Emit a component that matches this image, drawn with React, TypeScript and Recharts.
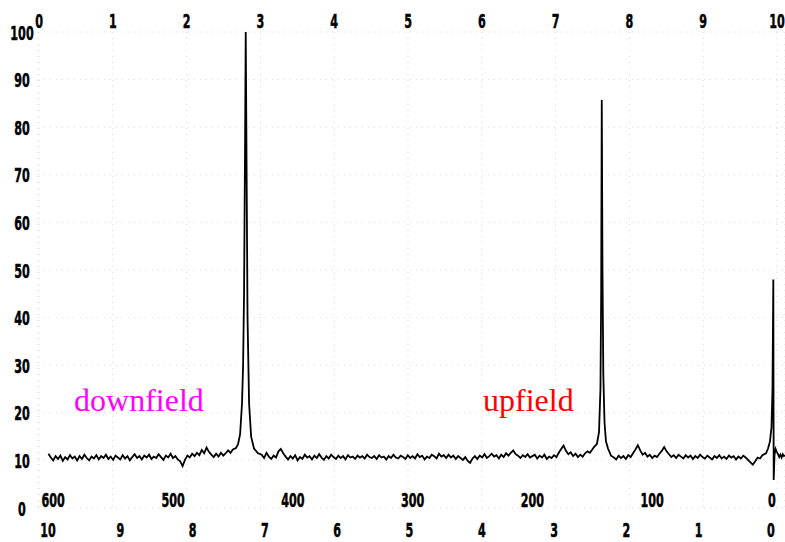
import React from "react";
import {
  LineChart,
  Line,
  XAxis,
  YAxis,
  CartesianGrid,
  ReferenceDot,
} from "recharts";

// Chemical shift of each sample (Hz from TMS, 60 MHz)
const shiftHz: number[] = [
  // downfield baseline
  604, 602, 600, 598, 596, 594, 592, 590, 588, 586, 584, 582, 580,
  578, 576, 574, 572, 570, 568, 566, 564, 562, 560, 558, 556, 554,
  552, 550, 548, 546, 544, 542, 540, 538, 536, 534, 532, 530, 528,
  526, 524, 522, 520, 518, 516, 514, 512, 510, 508, 506, 504, 502,
  500, 498, 496, 494, 492, 490, 488, 486, 484, 482, 480, 478, 476,
  474, 472, 470, 468, 466, 464, 462, 460, 458, 456, 454, 452, 450,
  // aromatic singlet
  447.4, 445.7, 444.0, 442.4, 441.5, 440.7, 439.9, 439.3, 438.6, 437.8, 436.5, 434.8, 432.4, 429.0,
  // middle baseline
  426, 424, 422, 420, 418, 416, 414, 412, 410, 408, 406, 404, 402,
  400, 398, 396, 394, 392, 390, 388, 386, 384, 382, 380, 378, 376,
  374, 372, 370, 368, 366, 364, 362, 360, 358, 356, 354, 352, 350,
  348, 346, 344, 342, 340, 338, 336, 334, 332, 330, 328, 326, 324,
  322, 320, 318, 316, 314, 312, 310, 308, 306, 304, 302, 300, 298,
  296, 294, 292, 290, 288, 286, 284, 282, 280, 278, 276, 274, 272,
  270, 268, 266, 264, 262, 260, 258, 256, 254, 252, 250, 248, 246,
  244, 242, 240, 238, 236, 234, 232, 230, 228, 226, 224, 222, 220,
  218, 216, 214, 212, 210, 208, 206, 204, 202, 200, 198, 196, 194,
  192, 190, 188, 186, 184, 182, 180, 178, 176, 174, 172, 170, 168,
  166, 164, 162, 160, 158, 156, 154, 152, 150,
  // methyl singlet
  148.6, 146.1, 144.4, 143.2, 142.6, 142.1, 141.5, 140.8, 139.8, 138.6, 136.9, 134.4,
  // upfield baseline
  132, 130, 128, 126, 124, 122, 120, 118, 116, 114, 112, 110, 108,
  106, 104, 102, 100, 98, 96, 94, 92, 90, 88, 86, 84, 82,
  80, 78, 76, 74, 72, 70, 68, 66, 64, 62, 60, 58, 56,
  54, 52, 50, 48, 46, 44, 42, 40, 38, 36, 34, 32, 30,
  28, 26, 24, 22, 20, 18, 16, 14, 12, 10, 8,
  // TMS reference
  5.0, 3.3, 1.7, 0.4, -0.4, -1.1, -1.4,
  -2.1, -3.0, -4.0, -5.0, -6.0, -7.0, -8.0, -9.0, -10.0, -10.8,
];

// Recorder intensity at each sample
const intensity: number[] = [
  11.4, 10.6, 10.0, 10.9, 10.3, 11.0, 9.9, 10.7, 10.2, 11.1, 10.4, 10.8, 10.0,
  10.9, 10.3, 11.2, 10.5, 10.0, 10.8, 10.4, 11.1, 10.2, 10.9, 10.5, 11.2, 10.3,
  10.8, 10.1, 11.0, 10.6, 10.2, 11.1, 10.4, 10.9, 10.0, 10.7, 11.3, 10.5, 10.9,
  10.2, 11.0, 10.6, 11.2, 10.3, 10.8, 10.5, 11.3, 10.7, 10.1, 11.0, 10.6, 11.4,
  10.5, 10.9, 10.2, 9.8, 8.8, 10.1, 11.0, 10.6, 11.4, 10.9, 11.6, 11.1, 12.2,
  11.5, 12.7, 11.8, 11.2, 10.7, 11.4, 10.8, 11.6, 11.0, 11.5, 12.1, 11.6, 12.3,
  12.6, 13.4, 15.5, 22, 30, 45, 75, 100, 72, 40, 22, 15, 12.5, 11.5,
  11.2, 10.5, 11.6, 10.8, 10.3, 11.0, 10.6, 11.9, 12.4, 11.5, 10.8, 10.2, 10.9,
  10.4, 11.1, 10.0, 10.7, 10.3, 11.2, 10.6, 10.9, 10.2, 11.0, 10.5, 11.3, 10.6,
  10.1, 10.9, 10.4, 11.2, 10.7, 10.3, 11.0, 10.5, 10.9, 10.2, 11.1, 10.6, 10.8,
  10.3, 11.0, 10.6, 10.9, 10.4, 11.2, 10.7, 10.5, 10.9, 10.3, 11.1, 10.6, 10.8,
  10.2, 10.9, 10.5, 11.2, 10.6, 10.4, 11.0, 10.7, 10.3, 11.1, 10.5, 10.9, 10.4,
  11.3, 10.7, 11.0, 10.2, 10.8, 10.5, 11.2, 10.9, 10.4, 11.4, 10.8, 11.1, 10.5,
  11.2, 10.6, 11.0, 10.3, 10.9, 10.5, 10.1, 10.7, 9.9, 9.5, 10.4, 10.9, 10.3,
  11.0, 10.6, 11.3, 10.5, 10.9, 11.4, 10.8, 11.1, 10.4, 11.2, 10.7, 11.5, 11.0,
  11.6, 12.1, 11.3, 11.0, 10.5, 11.1, 10.7, 11.3, 10.6, 10.9, 11.2, 10.4, 11.0,
  10.6, 11.2, 10.3, 10.8, 10.5, 11.1, 10.7, 11.6, 12.4, 13.1, 12.0, 11.3, 11.7,
  10.9, 11.4, 10.7, 11.2, 10.8, 11.5, 11.9, 11.6, 12.3,
  12.8, 13.5, 16, 25, 45, 85.7, 50, 28, 18, 14, 12.5, 11.0,
  10.6, 10.2, 11.0, 10.5, 10.9, 10.3, 11.1, 10.7, 11.5, 12.3, 13.2, 12.1, 11.2,
  11.6, 10.8, 11.2, 10.5, 11.0, 10.7, 11.4, 12.0, 12.8, 11.9, 11.3, 10.7, 11.1,
  10.5, 11.2, 10.8, 10.4, 11.1, 10.6, 11.0, 10.3, 10.9, 10.5, 11.2, 10.7, 10.4,
  11.0, 10.6, 10.2, 10.9, 10.5, 11.1, 10.4, 10.8, 10.3, 11.0, 10.6, 10.9, 10.2,
  10.8, 10.4, 11.0, 10.6, 10.1, 9.6, 9.1, 9.8, 10.6, 10.4, 11.1,
  11.5, 12.5, 14, 17, 25, 48, 5.9,
  11.2, 12.4, 11.8, 11.3, 10.7, 11.2, 10.6, 11.3, 10.9, 11.1,
];

// Scale labels
const intensityTicks = [0, 10, 20, 30, 40, 50, 60, 70, 80, 90, 100];
const chartTicks = [0, 1, 2, 3, 4, 5, 6, 7, 8, 9, 10];
const hzTicks = [600, 500, 400, 300, 200, 100, 0];
const ppmTicks = [10, 9, 8, 7, 6, 5, 4, 3, 2, 1, 0];

// Spectrometer frequency (MHz) and chart-paper span of the top ruler
const spectrometerMHz = 60;
const rulerZeroHz = 611.8;
const rulerHzPerDivision = 61.6;

// Region annotations placed in data coordinates
const annotations: { text: string; hz: number; value: number; color: string }[] = [
  { text: "downfield", hz: 582.6, value: 20.4, color: "#ff00ff" },
  { text: "upfield", hz: 241.2, value: 20.4, color: "#ff0000" },
];

const spectrum = shiftHz.map((hz, i) => ({
  hz,
  ppm: hz / spectrometerMHz,
  ruler: (rulerZeroHz - hz) / rulerHzPerDivision,
  value: intensity[i],
}));

const labelFont = "'Liberation Sans Narrow', 'DejaVu Sans Condensed', 'Arial Narrow', sans-serif";

const scaleText = (x: number, y: number, value: number | string) => (
  <g transform={`translate(${x},${y}) scale(0.62,1)`}>
    <text
      x={0}
      y={0}
      textAnchor="middle"
      dominantBaseline="central"
      fontFamily={labelFont}
      fontWeight="bold"
      fontSize={20}
      fill="#000"
      stroke="#000"
      strokeWidth={0.5}
    >
      {value}
    </text>
  </g>
);

const makeXTick = (rowY: number) => (props: any) => scaleText(props.x, rowY, props.payload.value);
const yTick = (props: any) => scaleText(22, props.y + 1, props.payload.value);

export default function App() {
  return (
    <div style={{ position: "absolute", left: 0, top: 0, width: 785, height: 542, background: "#fff" }}>
      <LineChart
        width={785}
        height={542}
        data={spectrum}
        margin={{ top: 0, right: 0, bottom: 0, left: 0 }}
      >
        <CartesianGrid
          xAxisId="top"
          yAxisId="v"
          stroke="#d8d8d8"
          strokeDasharray="1 5"
        />
        <XAxis
          xAxisId="top"
          dataKey="ruler"
          orientation="top"
          type="number"
          domain={[-0.0136, 10.108]}
          ticks={chartTicks}
          interval={0}
          allowDataOverflow
          axisLine={false}
          tickLine={false}
          height={32}
          tick={makeXTick(21)}
        />
        <XAxis
          xAxisId="hz"
          dataKey="hz"
          type="number"
          domain={[-10.85, 612.7]}
          reversed
          ticks={hzTicks}
          interval={0}
          allowDataOverflow
          axisLine={false}
          tickLine={false}
          height={14}
          tick={makeXTick(500)}
        />
        <XAxis
          xAxisId="ppm"
          dataKey="ppm"
          type="number"
          domain={[-0.194, 10.138]}
          reversed
          ticks={ppmTicks}
          interval={0}
          allowDataOverflow
          axisLine={false}
          tickLine={false}
          height={20}
          tick={makeXTick(530)}
        />
        <YAxis
          yAxisId="v"
          type="number"
          domain={[0, 100]}
          ticks={intensityTicks}
          interval={0}
          allowDataOverflow
          axisLine={false}
          tickLine={false}
          width={38}
          tick={yTick}
        />
        <Line
          xAxisId="hz"
          yAxisId="v"
          type="linear"
          dataKey="value"
          stroke="#000"
          strokeWidth={1.8}
          dot={false}
          isAnimationActive={false}
        />
        {annotations.map((a) => (
          <ReferenceDot
            key={a.text}
            xAxisId="hz"
            yAxisId="v"
            x={a.hz}
            y={a.value}
            shape={(p: any) => (
              <text
                x={p.cx}
                y={p.cy}
                fill={a.color}
                fontFamily="'Liberation Serif', 'Times New Roman', serif"
                fontSize={32}
              >
                {a.text}
              </text>
            )}
          />
        ))}
      </LineChart>
    </div>
  );
}
